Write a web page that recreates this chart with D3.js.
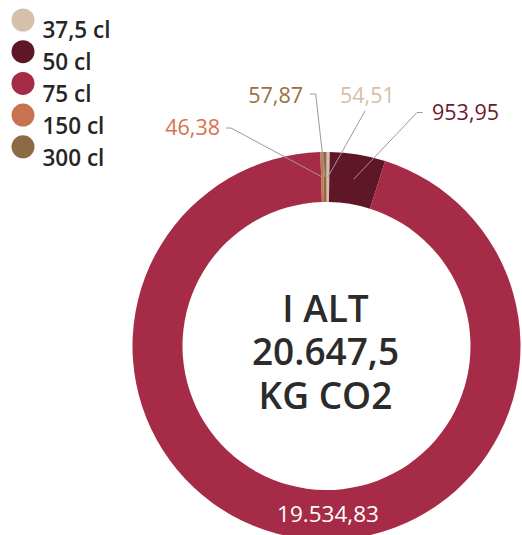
<!DOCTYPE html>
<html><head><meta charset="utf-8">
<script src="https://cdn.jsdelivr.net/npm/d3@7"></script>
<style>body{margin:0;background:#fff;}svg{display:block;font-family:"Open Sans",sans-serif;}</style>
</head><body>
<svg id="chart" width="522" height="535"></svg>
<script>
const categories = ["37,5 cl", "50 cl", "75 cl", "150 cl", "300 cl"];
const values = [54.51, 953.95, 19534.83, 46.38, 57.87];
const valueLabels = ["54,51", "953,95", "19.534,83", "46,38", "57,87"];
const colors = ["#d5c0a9", "#5f1727", "#a62b46", "#c8734f", "#8d6a43"];
const labelColors = ["#d6bea6", "#6b1a2e", "#ffffff", "#d9714c", "#9a6e40"];
const centerLines = ["I ALT", "20.647,5", "KG CO2"];

const svg = d3.select("#chart");
const cx = 326.5, cy = 346, R = 194, r = 144;
const g = svg.append("g").attr("transform", `translate(${cx},${cy})`);

const pie = d3.pie().sort(null).value(d => d)(values);
const arc = d3.arc().innerRadius(r).outerRadius(R);
const color = d3.scaleOrdinal().domain(categories).range(colors);

g.selectAll("path.slice").data(pie).enter().append("path")
  .attr("class","slice")
  .attr("d", arc)
  .attr("fill", (d,i) => color(categories[i]));

const labelPos = {
  0: {x: 340 - cx, y: 103 - cy, anchor: "start", line: [[365,111],[365,111]]},
  1: {x: 432 - cx, y: 120 - cy, anchor: "start", line: [[422.7,112.5],[417,112.5]]},
  3: {x: 220 - cx, y: 135 - cy, anchor: "end", line: [[226,128],[231,128]]},
  4: {x: 303 - cx, y: 103 - cy, anchor: "end", line: [[310,94],[315.7,94]]}
};

pie.forEach((d,i) => {
  const c = arc.centroid(d);
  if (i === 2) {
    g.append("text").attr("x", 1.5).attr("y", c[1] + 8.5)
      .attr("text-anchor","middle").attr("font-size", 22.5)
      .attr("fill", labelColors[i]).text(valueLabels[i]);
    return;
  }
  const lp = labelPos[i];
  const pts = [[lp.line[0][0]-cx, lp.line[0][1]-cy],[lp.line[1][0]-cx, lp.line[1][1]-cy], c];
  g.append("path").attr("d", d3.line()(pts)).attr("fill","none")
    .attr("stroke","#9a9a9a").attr("stroke-width",1);
  g.append("text").attr("x", lp.x).attr("y", lp.y).attr("text-anchor", lp.anchor)
    .attr("font-size", 21.5).attr("fill", labelColors[i]).text(valueLabels[i]);
});

// center text (one text element, three lines)
const ct = g.append("text").attr("text-anchor","middle").attr("font-size", 37)
  .attr("font-weight", 600).attr("fill","#2b2b2b");
centerLines.forEach((t,i) => {
  ct.append("tspan").attr("x", -1).attr("y", 321.7 - cy + i*43.7).text(t);
});

// legend
const lg = svg.append("g");
categories.forEach((c,i) => {
  lg.append("circle").attr("cx", 23).attr("cy", 20 + i*31.7).attr("r", 11.5).attr("fill", color(c));
  lg.append("text").attr("x", 42.5).attr("y", 37.8 + i*32).attr("font-size", 22.5)
    .attr("font-weight", 600).attr("fill","#262626").text(c);
});
</script>
</body></html>
